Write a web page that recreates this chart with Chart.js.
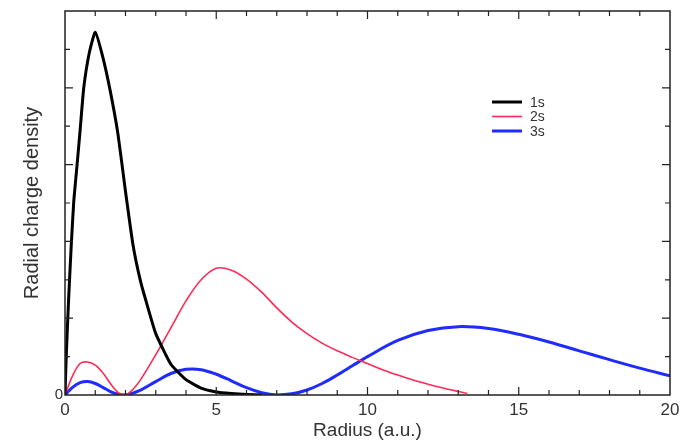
<!DOCTYPE html>
<html>
<head>
<meta charset="utf-8">
<script src="https://cdn.jsdelivr.net/npm/chart.js@4.4.1/dist/chart.umd.min.js"></script>
<style>
    html, body { margin: 0; padding: 0; background: #fff; }
    #wrap { width: 692px; height: 444px; }
</style>
</head>
<body>
<div id="wrap"><canvas id="chart"></canvas></div>
<script>
// Radial charge density of the hydrogen 1s, 2s and 3s orbitals
const radius1s = [0, 0.04, 0.12, 0.2, 0.29, 0.4, 0.5, 0.62, 0.8, 1.0, 1.25, 1.5, 1.75, 2.0, 2.25, 2.5, 2.75, 3.0, 3.5, 4.0, 4.5, 5.0, 5.5, 6.0, 6.5];
const density1s = [0, 1.0, 2.5, 3.8, 5.05, 6.0, 6.9, 8.0, 8.9, 9.45, 8.8, 7.9, 6.8, 5.3, 3.9, 2.95, 2.25, 1.6, 0.8, 0.4, 0.18, 0.08, 0.04, 0.015, 0];

const radius2s = [0, 0.25, 0.5, 0.75, 1.0, 1.25, 1.5, 1.75, 2.0, 2.25, 2.5, 3.0, 3.5, 4.0, 4.5, 5.0, 5.5, 6.0, 6.5, 7.0, 7.5, 8.0, 8.5, 9.0, 9.5, 10.0, 10.5, 11.0, 11.5, 12.0, 12.5, 13.0, 13.3];
const density2s = [0, 0.5, 0.82, 0.86, 0.78, 0.58, 0.3, 0.07, 0, 0.15, 0.4, 1.05, 1.75, 2.45, 3.0, 3.3, 3.25, 3.02, 2.68, 2.27, 1.9, 1.6, 1.35, 1.15, 0.98, 0.82, 0.66, 0.52, 0.39, 0.28, 0.18, 0.09, 0.04];

const radius3s = [0, 0.25, 0.5, 0.75, 1.0, 1.25, 1.5, 1.75, 2.0, 2.5, 3.0, 3.5, 4.0, 4.5, 5.0, 5.5, 6.0, 6.5, 7.0, 7.5, 8.0, 8.5, 9.0, 9.5, 10, 11, 12, 13, 14, 15, 16, 17, 18, 19, 20];
const density3s = [0, 0.2, 0.32, 0.35, 0.3, 0.2, 0.09, 0.02, 0, 0.13, 0.35, 0.56, 0.67, 0.66, 0.54, 0.37, 0.19, 0.06, 0, 0.03, 0.13, 0.3, 0.52, 0.76, 1.0, 1.42, 1.68, 1.78, 1.73, 1.58, 1.38, 1.15, 0.92, 0.7, 0.5];

const seriesLabels = ['1s', '2s', '3s'];
const xTickLabels = [0, 5, 10, 15, 20];

const FONT = '"Liberation Sans", Arial, Helvetica, sans-serif';
const TEXT_COLOR = '#333';

function toPoints(xs, ys) {
    return xs.map((x, i) => ({ x: x, y: ys[i] }));
}

// Box frame with inward ticks on all four sides, plus an inset legend
const framePlugin = {
    id: 'frame',
    afterDatasetsDraw(chart) {
        const ctx = chart.ctx;
        const area = chart.chartArea;
        const xs = chart.scales.x;
        const ys = chart.scales.y;

        ctx.save();
        ctx.strokeStyle = '#222';
        ctx.lineWidth = 1.5;
        ctx.strokeRect(area.left, area.top, area.right - area.left, area.bottom - area.top);

        ctx.lineWidth = 1.2;
        ctx.beginPath();
        for (let v = 1; v < 20; v++) {
            const px = xs.getPixelForValue(v);
            const len = v % 5 === 0 ? 8 : 5;
            ctx.moveTo(px, area.bottom);
            ctx.lineTo(px, area.bottom - len);
            ctx.moveTo(px, area.top);
            ctx.lineTo(px, area.top + len);
        }
        for (let v = 1; v < 10; v++) {
            const py = ys.getPixelForValue(v);
            const len = v % 2 === 0 ? 8 : 5;
            ctx.moveTo(area.left, py);
            ctx.lineTo(area.left + len, py);
            ctx.moveTo(area.right, py);
            ctx.lineTo(area.right - len, py);
        }
        ctx.stroke();
        ctx.restore();
    },
    afterDraw(chart, args, opts) {
        const ctx = chart.ctx;
        ctx.save();
        ctx.font = '14px ' + FONT;
        ctx.textBaseline = 'middle';
        ctx.textAlign = 'left';
        chart.data.datasets.forEach((ds, i) => {
            const y = opts.top + i * opts.rowHeight;
            ctx.strokeStyle = ds.borderColor;
            ctx.lineWidth = ds.borderWidth;
            ctx.beginPath();
            ctx.moveTo(opts.left, y);
            ctx.lineTo(opts.left + opts.lineLength, y);
            ctx.stroke();
            ctx.fillStyle = TEXT_COLOR;
            ctx.fillText(ds.label, opts.left + opts.lineLength + 8, y + 1);
        });
        ctx.restore();
    }
};

const ctx = document.getElementById('chart').getContext('2d');

new Chart(ctx, {
    type: 'line',
    data: {
        datasets: [{
            label: seriesLabels[0],
            data: toPoints(radius1s, density1s),
            borderColor: '#000000',
            borderWidth: 3,
            tension: 0.15,
            pointRadius: 0
        }, {
            label: seriesLabels[1],
            data: toPoints(radius2s, density2s),
            borderColor: '#ff2a55',
            borderWidth: 1.6,
            tension: 0.35,
            pointRadius: 0
        }, {
            label: seriesLabels[2],
            data: toPoints(radius3s, density3s),
            borderColor: '#1f2bff',
            borderWidth: 3,
            tension: 0.35,
            pointRadius: 0
        }]
    },
    options: {
        responsive: true,
        maintainAspectRatio: false,
        animation: false,
        layout: {
            padding: { top: 8, right: 22, left: 0, bottom: 0 }
        },
        scales: {
            x: {
                type: 'linear',
                min: 0,
                max: 20,
                grid: { display: false, drawTicks: false },
                border: { display: false },
                afterBuildTicks: (scale) => {
                    scale.ticks = xTickLabels.map(v => ({ value: v }));
                },
                afterFit: (scale) => { scale.height = 49; },
                ticks: {
                    padding: 5,
                    color: TEXT_COLOR,
                    font: { family: FONT, size: 17 }
                },
                title: {
                    display: true,
                    text: 'Radius (a.u.)',
                    color: TEXT_COLOR,
                    font: { family: FONT, size: 19 },
                    padding: { top: 0, bottom: 2 }
                }
            },
            y: {
                type: 'linear',
                min: 0,
                max: 10,
                grid: { display: false, drawTicks: false },
                border: { display: false },
                afterBuildTicks: (scale) => {
                    scale.ticks = [{ value: 0 }];
                },
                afterFit: (scale) => { scale.width = 65; },
                ticks: {
                    padding: 2,
                    color: TEXT_COLOR,
                    font: { family: FONT, size: 15 }
                },
                title: {
                    display: true,
                    text: 'Radial charge density',
                    color: TEXT_COLOR,
                    font: { family: FONT, size: 20 },
                    padding: { top: 20, bottom: 0 }
                }
            }
        },
        plugins: {
            legend: { display: false },
            tooltip: { enabled: false },
            frame: { left: 492, top: 102, rowHeight: 14.5, lineLength: 30 }
        }
    },
    plugins: [framePlugin]
});
</script>
</body>
</html>
